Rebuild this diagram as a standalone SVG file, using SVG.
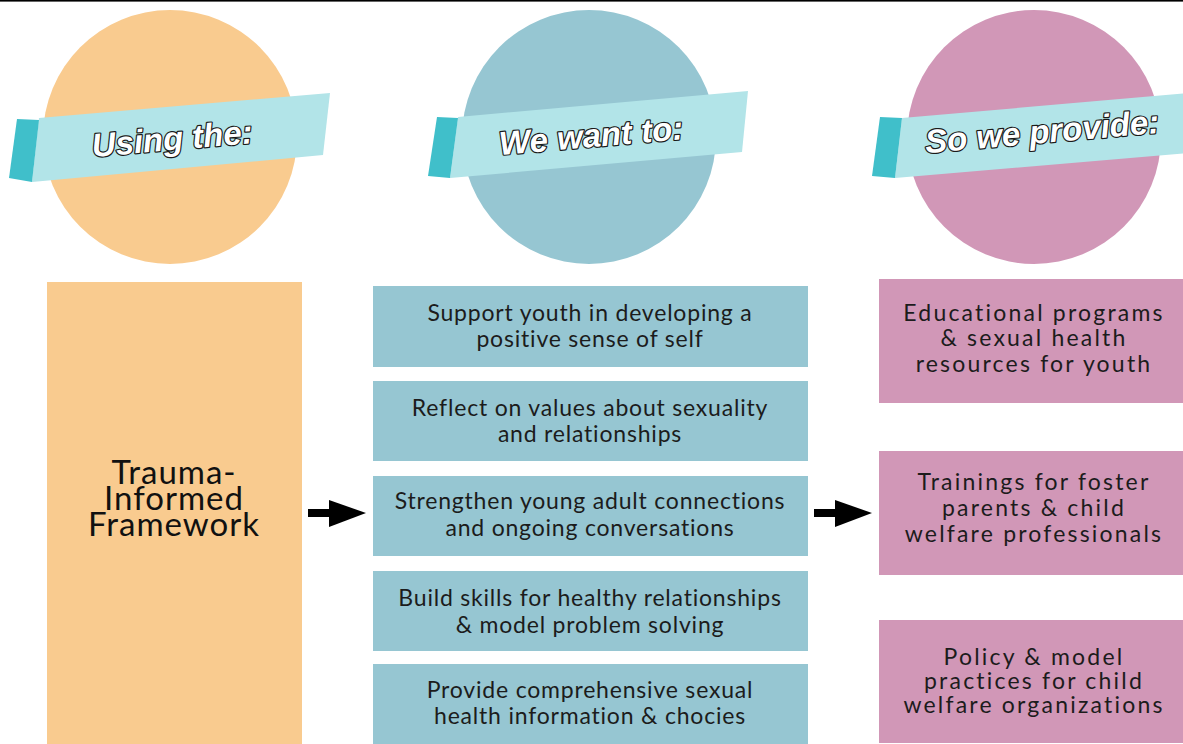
<svg xmlns="http://www.w3.org/2000/svg" width="1183" height="744" viewBox="0 0 1183 744">
  <style>
    .banner { fill: #b2e4e8; }
    .tab { fill: #40bfca; }
    .title { font-family: "Liberation Sans", Arial, sans-serif; font-weight: bold; font-style: italic; font-size: 33px; fill: #ffffff; stroke: #1a1a1a; stroke-width: 2.4px; paint-order: stroke; stroke-linejoin: round; text-anchor: middle; }
    .goal { fill: #96c6d2; }
    .offer { fill: #d197b7; }
    .mid { font-family: Lato, "Liberation Sans", sans-serif; font-size: 23px; letter-spacing: 0.8px; fill: #1c1c1c; text-anchor: middle; }
    .right { font-family: Lato, "Liberation Sans", sans-serif; font-size: 23px; letter-spacing: 2.2px; fill: #1c1c1c; text-anchor: middle; }
    .big { font-family: Lato, "Liberation Sans", sans-serif; font-size: 33px; letter-spacing: 1px; fill: #111111; text-anchor: middle; }
  </style>

  <!-- top rule -->
  <rect x="0" y="0" width="1183" height="1.6" fill="#000000"/>

  <!-- column headers: disc + tilted ribbon -->
  <g id="header-using">
    <circle cx="170" cy="137" r="127" fill="#f9cb8f"/>
    <polygon class="banner" points="39,118 330,93 323,155 32,182"/>
    <polygon class="tab" points="17,119 39,120 32,182 9,178"/>
    <text class="title" transform="translate(173,150) rotate(-5)">Using the:</text>
  </g>

  <g id="header-want">
    <circle cx="589" cy="137" r="127" fill="#96c6d2"/>
    <polygon class="banner" points="458,117 748,91 742,152 450,178"/>
    <polygon class="tab" points="437,117 458,118 450,178 428,176"/>
    <text class="title" transform="translate(592,147) rotate(-5)">We want to:</text>
  </g>

  <g id="header-provide">
    <circle cx="1034" cy="137" r="127" fill="#d197b7"/>
    <polygon class="banner" points="902,118 1190,93 1190,153 895,178"/>
    <polygon class="tab" points="880,117 902,118 895,178 872,176"/>
    <text class="title" transform="translate(1043,143) rotate(-5)">So we provide:</text>
  </g>

  <!-- left column -->
  <g id="framework">
    <rect x="47" y="282" width="255" height="462" fill="#f9cb8f"/>
    <text class="big" x="174" y="484">Trauma-</text>
    <text class="big" x="174" y="510">Informed</text>
    <text class="big" x="174" y="536">Framework</text>
  </g>

  <!-- middle column -->
  <g id="goal-1">
    <rect class="goal" x="373" y="286" width="435" height="81"/>
    <text class="mid" x="590" y="321">Support youth in developing a</text>
    <text class="mid" x="590" y="347">positive sense of self</text>
  </g>
  <g id="goal-2">
    <rect class="goal" x="373" y="381" width="435" height="80"/>
    <text class="mid" x="590" y="416">Reflect on values about sexuality</text>
    <text class="mid" x="590" y="442">and relationships</text>
  </g>
  <g id="goal-3">
    <rect class="goal" x="373" y="476" width="435" height="80"/>
    <text class="mid" x="590" y="509">Strengthen young adult connections</text>
    <text class="mid" x="590" y="536">and ongoing conversations</text>
  </g>
  <g id="goal-4">
    <rect class="goal" x="373" y="571" width="435" height="80"/>
    <text class="mid" x="590" y="606">Build skills for healthy relationships</text>
    <text class="mid" x="590" y="633">&amp; model problem solving</text>
  </g>
  <g id="goal-5">
    <rect class="goal" x="373" y="664" width="435" height="80"/>
    <text class="mid" x="590" y="698">Provide comprehensive sexual</text>
    <text class="mid" x="590" y="724">health information &amp; chocies</text>
  </g>

  <!-- right column -->
  <g id="offer-1">
    <rect class="offer" x="879" y="279" width="304" height="124"/>
    <text class="right" x="1034" y="321">Educational programs</text>
    <text class="right" x="1034" y="346">&amp; sexual health</text>
    <text class="right" x="1034" y="372">resources for youth</text>
  </g>
  <g id="offer-2">
    <rect class="offer" x="879" y="451" width="304" height="124"/>
    <text class="right" x="1034" y="490">Trainings for foster</text>
    <text class="right" x="1034" y="516">parents &amp; child</text>
    <text class="right" x="1034" y="542">welfare professionals</text>
  </g>
  <g id="offer-3">
    <rect class="offer" x="879" y="620" width="304" height="123"/>
    <text class="right" x="1034" y="665">Policy &amp; model</text>
    <text class="right" x="1034" y="689">practices for child</text>
    <text class="right" x="1034" y="713">welfare organizations</text>
  </g>

  <!-- connectors -->
  <g id="connectors" fill="#000000">
    <rect x="308" y="509" width="23" height="8"/>
    <polygon points="329,500 366,513 329,527"/>
    <rect x="814" y="509" width="23" height="8"/>
    <polygon points="835,500 872,513 835,527"/>
  </g>
</svg>
